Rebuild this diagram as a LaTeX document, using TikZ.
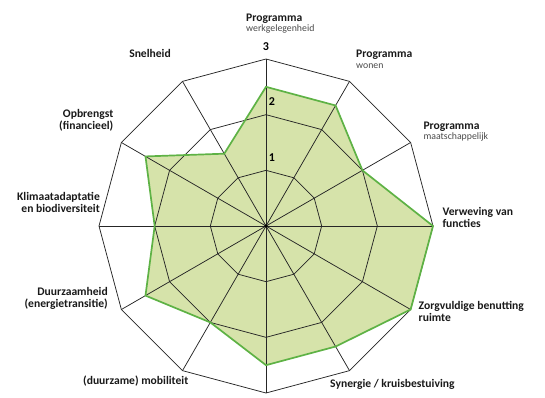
\documentclass[tikz,border=0pt]{standalone}
\usepackage{fontspec}
\setmainfont{Carlito}
\usetikzlibrary{calc}
\definecolor{fillgreen}{HTML}{D6E3AA}
\definecolor{linegreen}{HTML}{5EB245}
\definecolor{subgray}{HTML}{4A4A4A}
\begin{document}
\begin{tikzpicture}[x=1pt,y=1pt,
  lab/.style={font=\fontsize{11.6}{12.5}\selectfont\bfseries, inner sep=0pt, text=black!90},
  sub/.style={font=\fontsize{9.8}{11}\selectfont, inner sep=0pt, text=subgray},
  num/.style={font=\fontsize{12}{13}\selectfont\bfseries, inner sep=0pt},
  grid/.style={line width=0.75pt, black!85},
  dataline/.style={draw=linegreen, line width=1.7pt, line join=miter},
]
\useasboundingbox (0,-397) rectangle (545,0);
\def\u{55.667}
\coordinate (C) at (266,-226);
% data points
\foreach \a/\v [count=\i] in {90/2.5,60/2.5,30/2,0/3,-30/3,-60/2.5,-90/2.5,-120/2,-150/2.5,180/2,150/2.5,120/1.5}
  \coordinate (d\i) at ($(C)+(\a:\v*\u)$);
\fill[fillgreen] (d1)--(d2)--(d3)--(d4)--(d5)--(d6)--(d7)--(d8)--(d9)--(d10)--(d11)--(d12)--cycle;
% grid
\foreach \r in {1,2,3}{
  \foreach \a [count=\k] in {0,30,...,330}
    \coordinate (r\r-\k) at ($(C)+(\a:\r*\u)$);
  \draw[grid] (r\r-1)--(r\r-2)--(r\r-3)--(r\r-4)--(r\r-5)--(r\r-6)--(r\r-7)--(r\r-8)--(r\r-9)--(r\r-10)--(r\r-11)--(r\r-12)--cycle;
}
\foreach \k in {1,...,12}
  \draw[grid] (C) -- (r3-\k);
\fill[black] (C) circle (1.8);
\draw[dataline] (d1)--(d2)--(d3)--(d4)--(d5)--(d6)--(d7)--(d8)--(d9)--(d10)--(d11)--(d12)--cycle;
% scale numbers
\node[num] (n3) at (266,-47) {3};
\node[num] (n2) at (272,-102) {2};
\node[num] (n1) at (272,-158) {1};
% labels
\node[lab, anchor=base west] (l1a) at (246,-21) {Programma};
\node[sub, anchor=base west] (l1b) at (246,-31.8) {werkgelegenheid};
\node[lab, anchor=base west] (l2a) at (356,-57.5) {Programma};
\node[sub, anchor=base west] (l2b) at (356,-68.5) {wonen};
\node[lab, anchor=base west] (l3a) at (423.3,-129) {Programma};
\node[sub, anchor=base west] (l3b) at (423.3,-139.8) {maatschappelijk};
\node[lab, anchor=base west] (l4a) at (442.3,-215) {Verweving van};
\node[lab, anchor=base west] (l4b) at (442.3,-227) {functies};
\node[lab, anchor=base west] (l5a) at (418.5,-309.5) {Zorgvuldige benutting};
\node[lab, anchor=base west] (l5b) at (418.5,-321.5) {ruimte};
\node[lab, anchor=base west] (l6) at (330,-387) {Synergie / kruisbestuiving};
\node[lab, anchor=base east] (l7) at (188.5,-384) {(duurzame) mobiliteit};
\node[lab, anchor=base east] (l8a) at (108,-295.5) {Duurzaamheid};
\node[lab, anchor=base east] (l8b) at (108,-307.5) {(energietransitie)};
\node[lab, anchor=base east] (l9a) at (100,-200) {Klimaatadaptatie};
\node[lab, anchor=base east] (l9b) at (100,-212) {en biodiversiteit};
\node[lab, anchor=base east] (l10a) at (113.5,-117) {Opbrengst};
\node[lab, anchor=base east] (l10b) at (113.5,-129.3) {(financieel)};
\node[lab, anchor=base east] (l11) at (171,-57) {Snelheid};
\end{tikzpicture}
\end{document}
